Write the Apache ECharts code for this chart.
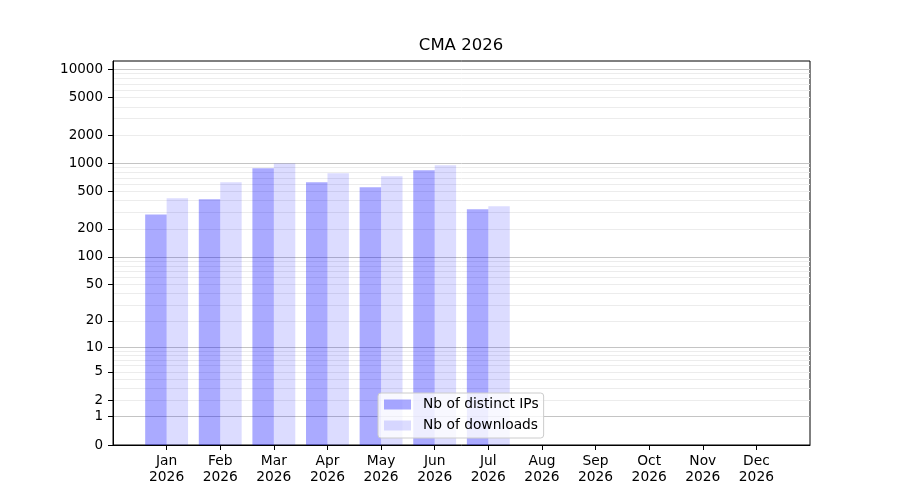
<!DOCTYPE html>
<html>
<head>
<meta charset="utf-8">
<script src="https://cdn.jsdelivr.net/npm/echarts@6/dist/echarts.min.js"></script>
<style>html,body{margin:0;padding:0;background:#fff;}#c{width:900px;height:500px;}</style>
</head>
<body>
<div id="c"></div>
<script>
const title = 'CMA 2026';
const months = ['Jan','Feb','Mar','Apr','May','Jun','Jul','Aug','Sep','Oct','Nov','Dec'];
const year = '2026';
const distinctIPs = [285, 413, 887, 627, 555, 843, 323];
const downloads = [424, 627, 995, 782, 726, 952, 348];
const yTickLabels = [0, 1, 2, 5, 10, 20, 50, 100, 200, 500, 1000, 2000, 5000, 10000];
const yMajorGrid = [1, 10, 100, 1000, 10000];
const yMinorGrid = [2,3,4,5,6,7,8,9,20,30,40,50,60,70,80,90,200,300,400,500,600,700,800,900,2000,3000,4000,5000,6000,7000,8000,9000];
const seriesNames = ['Nb of distinct IPs', 'Nb of downloads'];

const fwd = v => Math.log10(v + 1);
const inv = t => Math.round(Math.pow(10, t) - 1);
const yMax = 4.09;
const font = 'DejaVu Sans';

const monthIdx = months.map((m, i) => i);
const chart = echarts.init(document.getElementById('c'), null, {renderer: 'canvas'});

const hiddenAxis = (vals, color) => ({
  type: 'value', min: 0, max: yMax, position: 'left', show: true,
  axisLine: {show: false, onZero: false}, axisLabel: {show: false},
  axisTick: {show: false, customValues: vals.map(fwd)},
  splitLine: {show: true, lineStyle: {color: color, width: 1}}
});

chart.setOption({
  animation: false,
  backgroundColor: '#ffffff',
  title: {
    text: title, left: 461, top: 37, textAlign: 'center', padding: 0,
    textStyle: {fontFamily: font, fontSize: 16.5, fontWeight: 'normal', color: '#000'}
  },
  legend: {
    orient: 'vertical', left: 378, top: 393,
    itemWidth: 27, itemHeight: 10, itemGap: 6,
    padding: [4, 5, 5, 6],
    borderColor: '#cccccc', borderWidth: 1, borderRadius: 3,
    backgroundColor: 'rgba(255,255,255,0.8)',
    icon: 'rect',
    textStyle: {fontFamily: font, fontSize: 13.8, color: '#000', lineHeight: 15, padding: [0, 0, 0, 7]},
    data: seriesNames
  },
  grid: {
    left: 113, right: 90, top: 61, bottom: 55,
    show: true, borderColor: '#000', borderWidth: 1, backgroundColor: 'transparent'
  },
  xAxis: {
    type: 'value', min: -1, max: 12,
    axisLine: {show: true, onZero: false, lineStyle: {color: '#000', width: 1}},
    axisTick: {show: true, length: 5, lineStyle: {color: '#000'}, customValues: monthIdx},
    axisLabel: {
      customValues: monthIdx, margin: 8,
      fontFamily: font, fontSize: 13.8, color: '#000', lineHeight: 16,
      formatter: v => months[v] + '\n' + year
    },
    splitLine: {show: false}
  },
  yAxis: [
    {
      type: 'value', min: 0, max: yMax, position: 'left', z: 3,
      axisLine: {show: true, onZero: false, lineStyle: {color: '#000', width: 1}},
      axisTick: {show: true, length: 5, lineStyle: {color: '#000'}, customValues: yTickLabels.map(fwd)},
      axisLabel: {
        customValues: yTickLabels.map(fwd), margin: 10,
        fontFamily: font, fontSize: 13.5, color: '#000',
        formatter: v => String(inv(v))
      },
      splitLine: {show: false}
    },
    hiddenAxis(yMinorGrid, '#ececec'),
    hiddenAxis(yMajorGrid, '#c4c4c4')
  ],
  series: [
    {
      name: seriesNames[0], type: 'bar', yAxisIndex: 0,
      barGap: '0%', barCategoryGap: '20%',
      itemStyle: {color: 'rgba(0,0,255,0.333)'},
      data: distinctIPs.map((v, i) => [i, fwd(v)])
    },
    {
      name: seriesNames[1], type: 'bar', yAxisIndex: 0,
      barGap: '0%', barCategoryGap: '20%',
      itemStyle: {color: 'rgba(0,0,255,0.137)'},
      data: downloads.map((v, i) => [i, fwd(v)])
    }
  ]
});
</script>
</body>
</html>
